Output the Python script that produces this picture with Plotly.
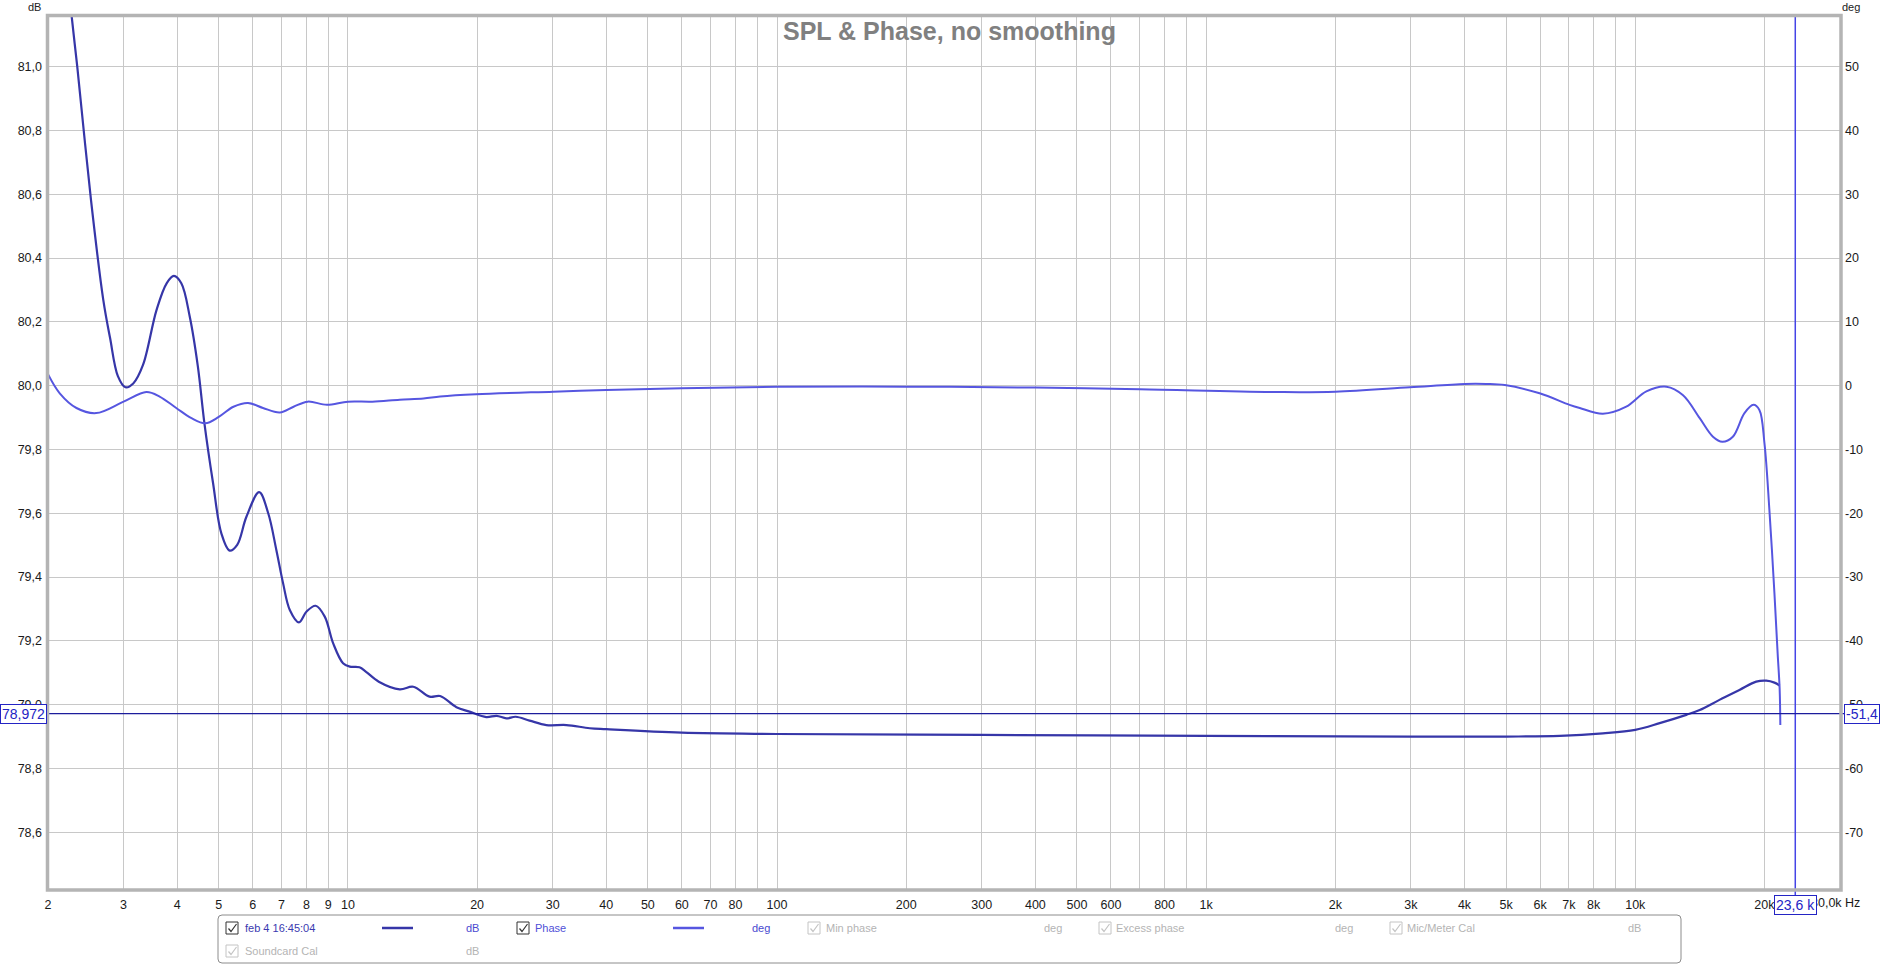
import math
import plotly.graph_objects as go

# ---------------- data ----------------
freq_spl = [2.0, 2.27, 2.34, 2.52, 2.69, 2.79, 2.91, 3.03, 3.16, 3.33, 3.58, 3.78, 3.93, 4.09,
            4.28, 4.47, 4.63, 4.85, 5.07, 5.30, 5.52, 5.80, 6.21, 6.52, 6.81, 7.06, 7.32, 7.69,
            8.01, 8.41, 8.83, 9.24, 9.74, 10.1, 10.64, 11.02, 11.8, 13.2, 14.2, 15.5, 16.4,
            17.9, 19.2, 21.0, 22.2, 23.4, 24.6, 26.5, 29.0, 32.3, 36.6, 40, 60, 100, 300, 1000,
            3000, 5000, 6666, 8406, 10000, 11400, 13150, 14130, 15710, 17490, 19140, 20200,
            21100, 21700]
spl_db = [81.90, 81.16, 81.00, 80.58, 80.27, 80.15, 80.03, 79.995, 80.007, 80.065, 80.237,
          80.321, 80.344, 80.321, 80.216, 80.06, 79.882, 79.694, 79.537, 79.483, 79.501, 79.589,
          79.666, 79.600, 79.485, 79.381, 79.297, 79.258, 79.292, 79.310, 79.276, 79.192, 79.130,
          79.119, 79.117, 79.103, 79.072, 79.048, 79.056, 79.025, 79.027, 78.992, 78.978, 78.961,
          78.965, 78.957, 78.962, 78.950, 78.936, 78.936, 78.926, 78.923, 78.912, 78.908, 78.905,
          78.902, 78.900, 78.900, 78.902, 78.910, 78.921, 78.942, 78.968, 78.983, 79.015, 79.046,
          79.072, 79.075, 79.069, 79.060]

freq_phase = [2.0, 2.13, 2.33, 2.59, 3.00, 3.39, 3.64, 3.98, 4.32, 4.65, 5.0, 5.41, 5.85, 6.34,
              6.94, 7.47, 8.06, 8.93, 10, 11.4, 13.2, 15.0, 16.4, 19.9, 30.1, 40, 60, 100, 200,
              400, 700, 1490, 2000, 2984, 4008, 4490, 4966, 5986, 7028, 7424, 8406, 9528, 10614,
              11822, 12924, 14132, 15174, 15956, 16882, 17968, 18858, 19466, 20000, 20540, 21100,
              21470, 21700, 21780]
phase_deg = [1.8, -1.2, -3.5, -4.3, -2.5, -1.0, -1.7, -3.5, -5.1, -5.9, -4.9, -3.3, -2.7, -3.5,
             -4.2, -3.3, -2.5, -3.0, -2.5, -2.5, -2.2, -2.0, -1.7, -1.35, -0.94, -0.67, -0.4,
             -0.18, -0.15, -0.3, -0.56, -1.0, -0.94, -0.25, 0.27, 0.27, 0.1, -1.2, -3.0, -3.5,
             -4.4, -3.3, -0.9, -0.16, -1.5, -5.1, -8.0, -8.8, -8.0, -4.3, -3.0, -3.8, -9.0,
             -19.5, -32.5, -42.0, -47.5, -53.2]

x_tick_vals = [2, 3, 4, 5, 6, 7, 8, 9, 10, 20, 30, 40, 50, 60, 70, 80, 90, 100, 200, 300, 400,
               500, 600, 700, 800, 900, 1000, 2000, 3000, 4000, 5000, 6000, 7000, 8000, 9000,
               10000, 20000, 30000]
x_tick_text = ["2", "3", "4", "5", "6", "7", "8", "9", "10", "20", "30", "40", "50", "60", "70",
               "80", "", "100", "200", "300", "400", "500", "600", "", "800", "", "1k", "2k",
               "3k", "4k", "5k", "6k", "7k", "8k", "", "10k", "20k", ""]
db_tick_vals = [78.6, 78.8, 79.0, 79.2, 79.4, 79.6, 79.8, 80.0, 80.2, 80.4, 80.6, 80.8, 81.0]
db_tick_text = ["78,6", "78,8", "79,0", "79,2", "79,4", "79,6", "79,8", "80,0", "80,2", "80,4",
                "80,6", "80,8", "81,0"]
deg_tick_vals = [-70, -60, -50, -40, -30, -20, -10, 0, 10, 20, 30, 40, 50]
deg_tick_text = ["-70", "-60", "-50", "-40", "-30", "-20", "-10", "0", "10", "20", "30", "40", "50"]

cursor_freq = 23600
cursor_db = 78.972
cursor_deg = -51.4
db_range = [78.422, 81.159]
freq_range = [2, 30000]

legend_items_row1 = ["feb 4 16:45:04", "Phase", "Min phase", "Excess phase", "Mic/Meter Cal"]
legend_items_row2 = ["Soundcard Cal"]

# ---------------- styling ----------------
W, H = 1899, 965
PL, PR, PT, PB = 48, 1840, 16, 889
FONT = "Liberation Sans, Arial, sans-serif"
DB_COLOR = "#3636a8"
PH_COLOR = "#5656e0"
GRID = "#c8c8c8"
GRAYTXT = "#b4b4b4"


def fx(x):
    return (x - PL) / (PR - PL)


def fy(y):
    return (PB - y) / (PB - PT)


# phase axis maps 10 deg to 0.2 dB with 0 deg at 80 dB
deg_range = [(db_range[0] - 80) * 50, (db_range[1] - 80) * 50]

fig = go.Figure()
fig.add_trace(go.Scatter(x=freq_phase, y=phase_deg, yaxis="y2", mode="lines",
                         line=dict(color=PH_COLOR, width=2, shape="spline", smoothing=1.0),
                         hoverinfo="skip", showlegend=False))
fig.add_trace(go.Scatter(x=freq_spl, y=spl_db, mode="lines",
                         line=dict(color=DB_COLOR, width=2.2, shape="spline", smoothing=1.0),
                         hoverinfo="skip", showlegend=False))

shapes = []
annotations = []

# cursor lines
shapes.append(dict(type="line", xref="x", yref="paper", x0=cursor_freq, x1=cursor_freq,
                   y0=fy(896), y1=1, line=dict(color="#4444e6", width=1.5), layer="above"))
shapes.append(dict(type="line", xref="paper", yref="y", x0=fx(0), x1=fx(1845),
                   y0=cursor_db, y1=cursor_db, line=dict(color="#1c1c9c", width=1.2),
                   layer="above"))

# plot frame
shapes.append(dict(type="rect", xref="paper", yref="paper", x0=fx(PL - 0.5), x1=fx(PR + 1),
                   y0=fy(PB + 1), y1=fy(PT - 0.5), line=dict(color="#b4b4b4", width=3.5),
                   layer="above"))

# cursor value boxes
box_font = dict(family=FONT, size=14, color="#2424c4")
freq_box = dict(text=f"{cursor_freq / 1000:.1f} k".replace(".", ","), xref="x",
                yref="paper", x=math.log10(cursor_freq), y=fy(895), xanchor="center",
                yanchor="top", showarrow=False, font=box_font, bgcolor="white",
                bordercolor="#2424c4", borderwidth=1, borderpad=1)

# title and units
annotations.append(dict(text="<b>SPL &amp; Phase, no smoothing</b>", xref="paper", yref="paper",
                        x=fx(949), y=fy(31), xanchor="center", yanchor="middle",
                        showarrow=False, font=dict(family=FONT, size=25, color="#808080")))
annotations.append(dict(text="dB", xref="paper", yref="paper", x=fx(34), y=fy(6.5),
                        xanchor="center", yanchor="middle", showarrow=False,
                        font=dict(family=FONT, size=11, color="#222222")))
annotations.append(dict(text="deg", xref="paper", yref="paper", x=fx(1851), y=fy(6.5),
                        xanchor="center", yanchor="middle", showarrow=False,
                        font=dict(family=FONT, size=11, color="#222222")))
annotations.append(dict(text="30,0k Hz", xref="paper", yref="paper", x=fx(1809), y=fy(903),
                        xanchor="left", yanchor="middle", showarrow=False,
                        font=dict(family=FONT, size=12.5, color="#1a1a1a")))
annotations.append(dict(text=f"{cursor_db:.3f}".replace(".", ","), xref="paper", yref="y",
                        x=fx(0), y=cursor_db, xanchor="left", yanchor="middle",
                        showarrow=False, font=box_font, bgcolor="white",
                        bordercolor="#2424c4", borderwidth=1, borderpad=1))
annotations.append(dict(text=f"{cursor_deg:.1f}".replace(".", ","), xref="paper", yref="y2",
                        x=fx(1844), y=cursor_deg, xanchor="left", yanchor="middle",
                        showarrow=False, font=box_font, bgcolor="white",
                        bordercolor="#2424c4", borderwidth=1, borderpad=1))
annotations.append(freq_box)

# legend box (rounded rectangle)
lx0, lx1, ly0, ly1, r = 218, 1681, 915, 963, 4
path = (f"M {fx(lx0 + r)},{fy(ly0)} L {fx(lx1 - r)},{fy(ly0)} "
        f"Q {fx(lx1)},{fy(ly0)} {fx(lx1)},{fy(ly0 + r)} L {fx(lx1)},{fy(ly1 - r)} "
        f"Q {fx(lx1)},{fy(ly1)} {fx(lx1 - r)},{fy(ly1)} L {fx(lx0 + r)},{fy(ly1)} "
        f"Q {fx(lx0)},{fy(ly1)} {fx(lx0)},{fy(ly1 - r)} L {fx(lx0)},{fy(ly0 + r)} "
        f"Q {fx(lx0)},{fy(ly0)} {fx(lx0 + r)},{fy(ly0)} Z")
shapes.append(dict(type="path", xref="paper", yref="paper", path=path,
                   line=dict(color="#8c8c8c", width=1), fillcolor="rgba(0,0,0,0)"))


def checkbox(x0, yc, active):
    y0 = yc - 6
    col = "#333333" if active else "#c4c4c4"
    shapes.append(dict(type="rect", xref="paper", yref="paper", x0=fx(x0), x1=fx(x0 + 12),
                       y0=fy(y0 + 12), y1=fy(y0), line=dict(color=col, width=1),
                       fillcolor="white"))
    p = (f"M {fx(x0 + 2.5)},{fy(y0 + 6.5)} L {fx(x0 + 5)},{fy(y0 + 9.5)} "
         f"L {fx(x0 + 10.5)},{fy(y0 + 2)}")
    shapes.append(dict(type="path", xref="paper", yref="paper", path=p,
                       line=dict(color=col, width=1.2)))


def label(text, x, yc, color, size=11):
    annotations.append(dict(text=text, xref="paper", yref="paper", x=fx(x), y=fy(yc),
                            xanchor="left", yanchor="middle", showarrow=False,
                            font=dict(family=FONT, size=size, color=color)))


def sample(x0, x1, yc, color):
    shapes.append(dict(type="line", xref="paper", yref="paper", x0=fx(x0), x1=fx(x1),
                       y0=fy(yc), y1=fy(yc), line=dict(color=color, width=2.5)))


r1, r2 = 928, 951
checkbox(226, r1, True)
label(legend_items_row1[0], 243, r1, "#3a3ab0")
sample(382, 413, r1, DB_COLOR)
label("dB", 464, r1, "#4a4ad0")
checkbox(517, r1, True)
label(legend_items_row1[1], 533, r1, "#5050d8")
sample(673, 704, r1, PH_COLOR)
label("deg", 750, r1, "#4a4ad0")
checkbox(808, r1, False)
label(legend_items_row1[2], 824, r1, GRAYTXT)
label("deg", 1042, r1, GRAYTXT)
checkbox(1099, r1, False)
label(legend_items_row1[3], 1114, r1, GRAYTXT)
label("deg", 1333, r1, GRAYTXT)
checkbox(1390, r1, False)
label(legend_items_row1[4], 1405, r1, GRAYTXT)
label("dB", 1626, r1, GRAYTXT)
checkbox(226, r2, False)
label(legend_items_row2[0], 243, r2, GRAYTXT)
label("dB", 464, r2, GRAYTXT)

tickfont = dict(family=FONT, size=12.5, color="#1a1a1a")
fig.update_layout(
    width=W, height=H, autosize=False,
    margin=dict(l=PL, r=W - PR, t=PT, b=H - PB, pad=0),
    paper_bgcolor="white", plot_bgcolor="white",
    showlegend=False,
    xaxis=dict(type="log", range=[math.log10(freq_range[0]), math.log10(freq_range[1])],
               tickmode="array", tickvals=x_tick_vals, ticktext=x_tick_text,
               showgrid=True, gridcolor=GRID, gridwidth=1, zeroline=False,
               showline=False, ticks="", tickfont=tickfont, ticklabelstandoff=6,
               fixedrange=True),
    yaxis=dict(range=db_range, tickmode="array", tickvals=db_tick_vals, ticktext=db_tick_text,
               showgrid=True, gridcolor=GRID, gridwidth=1, zeroline=False, showline=False,
               ticks="", tickfont=tickfont, ticklabelstandoff=5, fixedrange=True),
    yaxis2=dict(range=deg_range, overlaying="y", side="right", tickmode="array",
                tickvals=deg_tick_vals, ticktext=deg_tick_text, showgrid=False,
                zeroline=False, showline=False, ticks="", tickfont=tickfont,
                ticklabelstandoff=4, fixedrange=True),
    shapes=shapes,
    annotations=annotations,
)

fig.write_html("out.html", config={"displayModeBar": False},
               post_script="document.body.style.margin='0px';"
                           "document.body.style.overflow='hidden';")
